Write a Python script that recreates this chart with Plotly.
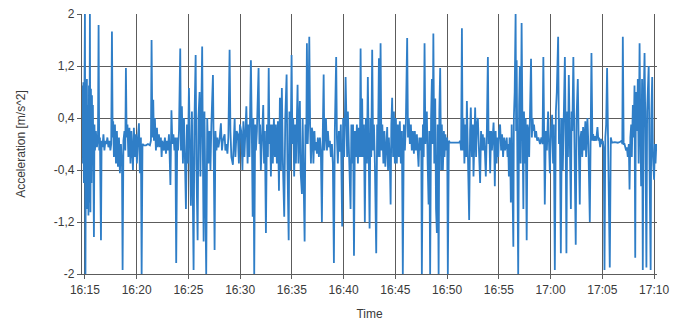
import pandas as pd
import plotly.graph_objects as go

# time offsets in minutes after 16:15 and acceleration values [m/s^2]
minutes = [
    -0.29, -0.24, -0.19, -0.15, -0.10, -0.05, 0.00, 0.05, 0.10, 0.14, 0.19, 0.24, 0.29, 0.34, 0.39, 0.43,
    0.48, 0.53, 0.58, 0.63, 0.68, 0.72, 0.77, 0.82, 0.87, 0.92, 0.97, 1.06, 1.16, 1.26, 1.32, 1.38,
    1.45, 1.55, 1.61, 1.69, 1.79, 1.88, 1.98, 2.08, 2.17, 2.27, 2.37, 2.46, 2.54, 2.61, 2.68, 2.73,
    2.80, 2.90, 3.00, 3.09, 3.19, 3.29, 3.38, 3.48, 3.58, 3.64, 3.72, 3.82, 3.90, 3.96, 4.03, 4.11,
    4.20, 4.30, 4.40, 4.49, 4.59, 4.64, 4.73, 4.83, 4.93, 5.02, 5.12, 5.22, 5.31, 5.41, 5.48, 5.56,
    5.70, 5.90, 6.09, 6.28, 6.38, 6.44, 6.52, 6.60, 6.67, 6.76, 6.86, 6.96, 7.05, 7.15, 7.25, 7.34,
    7.41, 7.49,
    7.63, 7.73, 7.83, 7.92, 8.02, 8.12, 8.19, 8.26, 8.36, 8.45, 8.55, 8.65, 8.74, 8.82, 8.92, 9.00,
    9.09, 9.21, 9.28, 9.37, 9.47, 9.57, 9.66, 9.76, 9.86, 9.95, 10.05, 10.14, 10.24, 10.34, 10.50, 10.58,
    10.70, 10.77, 10.89, 10.97, 11.08, 11.16, 11.24, 11.33, 11.40, 11.47, 11.55, 11.62, 11.72, 11.82, 11.93, 12.03,
    12.13, 12.22, 12.37, 12.45, 12.53, 12.61, 12.71, 12.80, 12.90, 13.00, 13.14, 13.24, 13.33, 13.50, 13.57, 13.67,
    13.77, 13.86, 13.98, 14.06, 14.15, 14.30, 14.40, 14.47, 14.54, 14.66, 14.78, 14.88, 14.98, 15.10, 15.22, 15.31,
    15.41, 15.53,
    15.60, 15.72, 15.80, 15.90, 16.04, 16.14, 16.21, 16.28, 16.36, 16.45, 16.52, 16.62, 16.78, 16.86, 16.93, 17.00,
    17.10, 17.23, 17.31, 17.39, 17.49, 17.59, 17.68, 17.76, 17.83, 17.90, 17.97, 18.07, 18.16, 18.26, 18.36, 18.45,
    18.55, 18.65, 18.75, 18.84, 18.94, 19.03, 19.13, 19.26, 19.36, 19.49, 19.57, 19.69, 19.76, 19.86, 19.97, 20.05,
    20.13, 20.22, 20.31, 20.39, 20.55, 20.63, 20.71, 20.77, 20.85, 20.97, 21.04, 21.13, 21.23, 21.31, 21.39, 21.45,
    21.53, 21.60, 21.68, 21.76, 21.84, 21.93, 22.00, 22.08, 22.18, 22.25, 22.32, 22.42, 22.51, 22.61, 22.71, 22.80,
    22.90, 22.98, 23.07, 23.14, 23.22, 23.29, 23.39, 23.48, 23.58,
    23.67, 23.77, 23.87, 23.96, 24.06, 24.15, 24.28, 24.35, 24.44, 24.54, 24.64, 24.73, 24.86, 24.95, 25.05, 25.19,
    25.27, 25.34, 25.41, 25.51, 25.67, 25.75, 25.85, 25.91, 26.00, 26.09, 26.19, 26.28, 26.38, 26.47, 26.57, 26.64,
    26.72, 26.79, 26.86, 26.96, 27.05, 27.15, 27.25, 27.34, 27.44, 27.51, 27.59, 27.67, 27.76, 27.85, 27.93, 28.02,
    28.15, 28.24, 28.31, 28.41, 28.49, 28.57, 28.65, 28.74, 28.84, 28.94, 29.03, 29.13, 29.21, 29.29, 29.37, 29.47,
    29.54, 29.61, 29.69, 29.78, 29.86, 29.95, 30.05, 30.14, 30.24, 30.34, 30.43, 30.53, 30.63, 30.72, 30.82, 30.92,
    31.01, 31.14, 31.22, 31.30, 31.40, 31.50, 31.59, 31.69,
    31.79, 31.88, 31.98, 32.08, 32.17, 32.24, 32.32, 32.42, 32.50, 32.56, 32.66, 32.74, 32.82, 32.90, 32.97, 33.04,
    33.12, 33.21, 33.28, 33.36, 33.45, 33.53, 33.61, 33.67, 33.76, 33.85, 33.93, 34.01, 34.09, 34.18, 34.25, 34.33,
    34.42, 34.49, 34.59, 34.69, 34.75, 34.83, 34.93, 35.01, 35.07, 35.17, 35.27, 35.56, 35.85, 36.14, 36.28, 36.35,
    36.43, 36.50, 36.59, 36.67, 36.76, 36.84, 36.91, 37.00, 37.13, 37.22, 37.29, 37.39, 37.49, 37.55, 37.63, 37.71,
    37.80, 37.87, 37.97, 38.07, 38.19, 38.28, 38.36, 38.45, 38.52, 38.60, 38.67, 38.74, 38.84, 38.94, 39.01, 39.08,
    39.16, 39.25, 39.33, 39.42, 39.49, 39.57, 39.61, 39.69,
    39.78, 39.86, 39.94, 40.02, 40.12, 40.22, 40.31, 40.41, 40.51, 40.60, 40.70, 40.76, 40.84, 40.91, 40.97, 41.04,
    41.11, 41.16, 41.24, 41.31, 41.40, 41.45, 41.53, 41.62, 41.67, 41.72, 41.79, 41.87, 41.96, 42.03, 42.11, 42.20,
    42.27, 42.37, 42.43, 42.51, 42.59, 42.69, 42.77, 42.85, 42.93, 43.01, 43.11, 43.19, 43.26, 43.33, 43.40, 43.50,
    43.60, 43.70, 43.82, 43.98, 44.11, 44.22, 44.30, 44.38, 44.44, 44.54, 44.64, 44.76, 44.85, 44.93, 45.03, 45.15,
    45.24, 45.31, 45.41, 45.51, 45.60, 45.73, 45.81, 45.89, 45.99, 46.09, 46.18, 46.28, 46.38, 46.46, 46.53, 46.61,
    46.68, 46.76, 46.86, 46.96, 47.03, 47.10, 47.20, 47.29, 47.37, 47.43, 47.51, 47.63,
    47.70, 47.82, 47.89, 47.97, 48.06, 48.14, 48.23, 48.36, 48.43, 48.56, 48.65, 48.79, 48.87, 48.95, 49.04, 49.11,
    49.21, 49.30, 49.40, 49.53, 49.62, 49.69, 49.79, 49.89, 49.95, 50.05, 50.14, 50.21, 50.29, 50.37, 50.46, 50.55,
    50.63, 50.72, 50.82, 50.92, 51.21, 51.50, 51.69, 51.88, 51.93, 51.98, 52.06, 52.14, 52.22, 52.30, 52.37, 52.46,
    52.56, 52.63, 52.71, 52.79, 52.85, 52.95, 53.03, 53.11, 53.18, 53.24, 53.35, 53.43, 53.51, 53.60, 53.67, 53.75,
    53.84, 53.91, 53.99, 54.08, 54.16, 54.26, 54.33, 54.41, 54.48, 54.56, 54.67, 54.73, 54.82, 54.89, 55.00, 55.08,
    55.14, 55.22, 55.29,
]

acceleration = [
    0.0, 0.9, -0.3, 0.95, -0.6, 0.7, 2.0, -2.0, 0.8, -0.8, 1.0, -1.0, 0.6, -1.1, 0.9, -0.9,
    2.0, -1.05, 0.85, -0.6, 0.75, -0.3, 0.6, -0.2, -1.43, 0.3, -0.1, 0.2, -0.05, 0.1, 1.83, -0.1,
    0.1, -1.48, 0.05, -0.05, 0.15, -0.1, 0.05, 0.0, 0.1, -0.05, 0.05, -0.1, 0.0, 1.73, 0.1, 0.35,
    -0.2, 0.3, -0.3, 0.2, -0.35, 0.1, -0.45, 0.0, -0.3, -1.94, 0.05, 0.2, -0.1, 1.17, 0.1, 0.3,
    -0.2, 0.25, -0.3, 0.2, -0.2, -0.4, 0.25, -0.2, 0.15, -0.3, 0.1, 0.32, -0.45, 0.1, -2.0, 0.0,
    -0.02, -0.02, 0.0, -0.02, 0.05, 1.6, 0.1, 0.68, 0.05, 0.4, -0.1, 0.25, -0.05, 0.15, -0.05, 0.1,
    -0.2, 0.05,
    -0.1, 0.1, -0.15, 0.05, -0.1, 0.15, -0.2, -0.63, 0.52, 0.0, 0.15, -0.1, 0.1, -1.83, 0.1, -0.1,
    0.2, 1.47, -0.1, 0.58, -0.3, 0.4, -0.2, -1.0, 0.3, -0.3, 0.86, -0.2, -0.95, 0.5, -1.94, 0.3,
    1.37, -0.3, -1.48, 0.4, 0.8, -0.5, 0.3, 1.5, -0.2, -1.5, 0.5, -0.4, -2.0, 0.4, -0.3, 0.2,
    -0.4, 0.3, 1.06, -0.2, -1.63, 0.2, -0.1, 0.1, -0.05, 0.05, 0.32, -0.1, 0.05, 0.15, -0.1, 0.0,
    -0.15, 0.1, 1.45, 0.2, -0.2, -0.32, 0.1, 0.4, -0.2, 0.2, 0.15, -0.3, 0.3, 0.2, -0.4, 0.35,
    -0.2, 0.45,
    0.58, -0.3, 0.3, -0.2, 1.29, 0.0, -1.12, 0.4, -2.0, 0.3, -0.1, 0.2, 1.17, 0.0, 0.3, -0.4,
    0.1, 0.6, -0.3, 0.2, -1.37, 0.3, -0.2, 1.17, 0.0, 0.3, -0.5, 0.3, -0.3, 0.4, -0.2, 0.3,
    -0.3, 0.35, -0.72, 0.71, -0.4, 0.86, -0.3, -1.12, 0.4, 1.07, -0.3, -1.48, 0.5, -0.4, 1.37, 0.0,
    0.4, -0.5, 0.3, -0.3, 0.91, -0.3, 0.3, 0.66, -0.45, -0.77, 0.4, -0.3, -1.5, 0.3, 0.0, 1.55,
    0.0, 0.4, 1.65, 0.3, -0.3, 0.25, 0.18, -0.3, 0.2, -0.1, 0.03, -0.15, 0.1, -0.2, 0.1, -0.1,
    -1.2, 0.1, 1.07, -0.1, 0.3, 0.4, -0.1, 0.2, -0.05,
    0.05, -0.2, 0.0, -0.3, -1.83, 0.2, 1.34, 0.1, -0.3, 0.2, -0.12, 0.3, -1.27, 0.4, -0.2, 1.03,
    0.0, -0.2, 0.5, -0.3, -1.0, 0.3, -0.3, 0.3, -1.72, 0.2, -0.2, 0.3, -0.3, 0.25, -0.2, 1.47,
    -0.2, 0.7, -0.2, 0.3, -1.2, 0.4, -0.3, 1.03, -0.3, -1.3, 0.4, -0.2, 1.45, -0.1, 0.3, -0.3,
    -1.68, 0.3, -0.2, 1.32, -0.2, 1.55, -0.1, 0.3, -0.3, 0.2, -0.35, 0.15, 0.26, -0.4, 0.1, -0.3,
    -0.93, 0.3, 0.71, -0.2, 0.5, -0.3, 0.4, -0.3, 0.3, -0.2, 0.35, -0.3, 0.2, -2.0, 0.3, -0.1,
    0.3, 1.63, 0.1, 0.4, 0.0, 0.3, -0.1, 0.2,
    -0.15, 0.2, -0.1, 0.15, -0.1, -0.35, 0.1, -0.1, 0.1, -2.0, 0.3, -0.2, 1.55, 0.0, 0.3, 0.5,
    -0.3, -0.93, 0.2, -2.0, 0.4, 1.0, 0.0, 1.7, -0.3, 0.7, -1.0, -1.37, 0.3, -2.0, 0.5, 1.17,
    -0.4, 0.3, -0.4, 0.2, -0.2, 0.15, -0.1, 0.1, -2.0, 0.05, 0.02, 0.02, 0.02, 0.02, 0.05, -0.1,
    1.78, -0.1, 0.4, -0.3, 0.3, -0.2, 0.66, -0.3, -1.17, 0.2, 0.56, -0.2, 0.3, -0.5, 0.2, 0.56,
    -0.2, 0.3, 0.4, -0.2, -0.6, 0.2, -0.1, 0.15, -0.1, 0.1, -0.2, -0.5, 0.2, 1.34, 0.0, 0.2,
    -0.45, 0.2, -0.1, 0.2, 0.33, -0.2, -0.65, 0.2,
    -0.3, 0.1, -0.2, 0.2, 0.3, -0.1, 0.15, -0.2, 0.1, -0.1, 0.05, 0.1, -0.2, 0.0, -0.5, 0.1,
    -0.3, -0.9, 0.3, -0.4, -1.58, 0.4, 0.8, 2.0, 0.2, 1.29, -0.5, -2.0, 0.6, 1.2, -0.3, 1.86,
    0.5, -1.0, 0.5, -0.3, 0.4, -1.48, 0.3, 0.2, -0.2, 0.3, 1.31, 0.1, 0.4, 0.2, 0.3, 0.1,
    0.2, 0.05, 0.1, 0.0, 0.1, 0.0, 1.34, 0.1, -0.93, 0.2, -0.1, 0.5, 0.0, -0.45, 0.2, 0.45,
    -0.3, 0.3, -1.94, 0.5, 0.8, 1.65, 0.0, 0.4, -1.68, 0.4, -0.4, 0.5, 1.34, 0.0, -1.68, 0.5,
    -0.2, 1.06, 0.0, -1.0, 0.5, 0.2, 1.34, 0.2, -0.5, -1.55, 0.4, 1.0,
    0.2, -0.93, 0.1, 0.2, -0.2, 0.26, -0.1, 0.35, -0.2, 0.4, 0.0, -1.2, 0.1, 1.4, 0.05, 0.15,
    0.05, 0.12, 0.05, 0.26, 0.05, 0.1, -0.05, 0.08, 0.0, 0.05, -0.1, -1.94, 0.1, 0.3, 1.17, 0.0,
    -0.3, -1.9, 0.1, 0.02, 0.03, 0.02, 0.03, 0.05, 0.0, 1.65, 0.0, 0.0, -0.05, -0.1, -0.05, -0.2,
    0.0, -0.7, 0.1, 0.3, -0.2, 0.6, 0.1, 0.9, -1.75, 0.8, 0.2, 1.0, -0.3, 1.55, 0.3, -0.65,
    1.0, -1.94, 0.6, 1.4, 0.2, -1.9, 0.5, 0.9, 1.2, -0.3, -1.94, 0.4, 1.03, -0.2, -0.55, 0.0,
    -0.3, 0.0, -0.1,
]

y_tick_values = [-2, -1.2, -0.4, 0.4, 1.2, 2]
y_tick_labels = ["-2", "-1,2", "-0,4", "0,4", "1,2", "2"]
x_tick_labels = ["16:15", "16:20", "16:25", "16:30", "16:35", "16:40",
                 "16:45", "16:50", "16:55", "17:00", "17:05", "17:10"]

day = "2024-01-01 "
start = pd.Timestamp(day + "16:15:00")
times = [start + pd.Timedelta(minutes=m) for m in minutes]
x_tick_values = [pd.Timestamp(day + t) for t in x_tick_labels]

fig = go.Figure()
fig.add_trace(go.Scatter(
    x=times, y=acceleration, mode="lines",
    line=dict(color="#2F7EC7", width=1.8),
    showlegend=False, hoverinfo="skip",
))

grid = "#5c5c5c"
# the page body adds an 8 px offset, so the figure is 8 px smaller with matching margins
fig.update_layout(
    width=678, height=316,
    margin=dict(l=74, r=29, t=6, b=50, autoexpand=False),
    paper_bgcolor="white", plot_bgcolor="white",
    font=dict(family="Liberation Sans, Arial, sans-serif", size=12, color="#3a3a3a"),
    xaxis=dict(
        type="date",
        range=[pd.Timestamp(day + "16:14:43"), pd.Timestamp(day + "17:10:17")],
        tickvals=x_tick_values, ticktext=x_tick_labels,
        showgrid=True, gridcolor=grid, gridwidth=1.3,
        showline=True, linecolor=grid, linewidth=1.3,
        ticks="outside", ticklen=4, tickcolor=grid,
        zeroline=False, ticklabeloverflow="allow",
        title=dict(text="Time", standoff=14, font=dict(size=12)),
    ),
    yaxis=dict(
        range=[-2, 2],
        tickvals=y_tick_values, ticktext=y_tick_labels,
        showgrid=True, gridcolor=grid, gridwidth=1.3,
        showline=True, linecolor=grid, linewidth=1.3,
        ticks="outside", ticklen=4, tickcolor=grid,
        zeroline=False, ticklabeloverflow="allow",
        title=dict(text="Acceleration [m/s^2]", standoff=25, font=dict(size=12)),
    ),
)

fig.write_html("out.html")
